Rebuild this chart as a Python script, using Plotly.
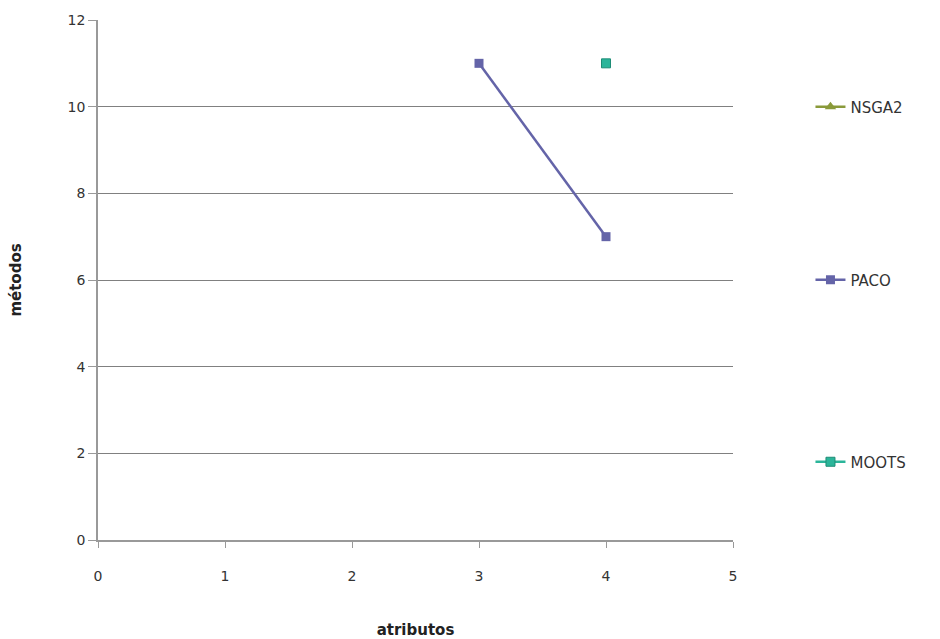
import plotly.graph_objects as go

# Data
paco_x = [3, 4]
paco_y = [11, 7]
moots_x = [4]
moots_y = [11]
nsga2_x = [None]
nsga2_y = [None]

x_ticks = [0, 1, 2, 3, 4, 5]
y_ticks = [0, 2, 4, 6, 8, 10, 12]

fig = go.Figure()
fig.add_trace(go.Scatter(x=nsga2_x, y=nsga2_y, name="NSGA2", mode="lines+markers",
                         line=dict(color="#8A9A3A", width=2.5),
                         marker=dict(symbol="triangle-up", size=10, color="#8A9A3A"),
                         showlegend=True, legend="legend"))
fig.add_trace(go.Scatter(x=paco_x, y=paco_y, name="PACO", mode="lines+markers",
                         line=dict(color="#6464A8", width=2.5),
                         marker=dict(symbol="square", size=9, color="#6464A8"),
                         legend="legend2"))
fig.add_trace(go.Scatter(x=moots_x, y=moots_y, name="MOOTS", mode="lines+markers",
                         line=dict(color="#2BB59A", width=2.5),
                         marker=dict(symbol="square", size=9, color="#2BB59A",
                                     line=dict(color="#1E8C76", width=1)),
                         legend="legend3"))

leg_common = dict(font=dict(family="DejaVu Sans", size=15, color="#333"),
                  bgcolor="rgba(0,0,0,0)", xanchor="left", yanchor="middle",
                  itemwidth=30)
tickfont = dict(family="DejaVu Sans", size=14, color="#333")
fig.update_layout(
    width=940, height=639,
    margin=dict(l=98, r=207, t=20, b=99, autoexpand=False),
    paper_bgcolor="white", plot_bgcolor="white",
    font=dict(family="DejaVu Sans", size=14, color="#333"),
    showlegend=True,
    legend=dict(x=1.122, y=1 - (107 - 20) / 520, **leg_common),
    legend2=dict(x=1.122, y=1 - (280 - 20) / 520, **leg_common),
    legend3=dict(x=1.122, y=1 - (462 - 20) / 520, **leg_common),
    xaxis=dict(range=[0, 5], tickvals=x_ticks, showgrid=False, zeroline=False,
               showline=True, linecolor="#999", linewidth=1.5, automargin=False,
               ticks="outside", ticklen=6, tickcolor="#999", ticklabelstandoff=16,
               tickfont=tickfont,
               title=dict(text="<b>atributos</b>", standoff=44,
                          font=dict(size=15, family="DejaVu Sans", color="#222"))),
    yaxis=dict(range=[0, 12], tickvals=y_ticks, showgrid=True, gridcolor="#808080",
               gridwidth=1, zeroline=False, showline=True, linecolor="#999",
               linewidth=1.5, ticks="outside", ticklen=8, tickcolor="#999",
               automargin=False, tickfont=tickfont,
               title=dict(text="<b>métodos</b>", standoff=42,
                          font=dict(size=15, family="DejaVu Sans", color="#222"))),
)

fig.write_html("out.html")
